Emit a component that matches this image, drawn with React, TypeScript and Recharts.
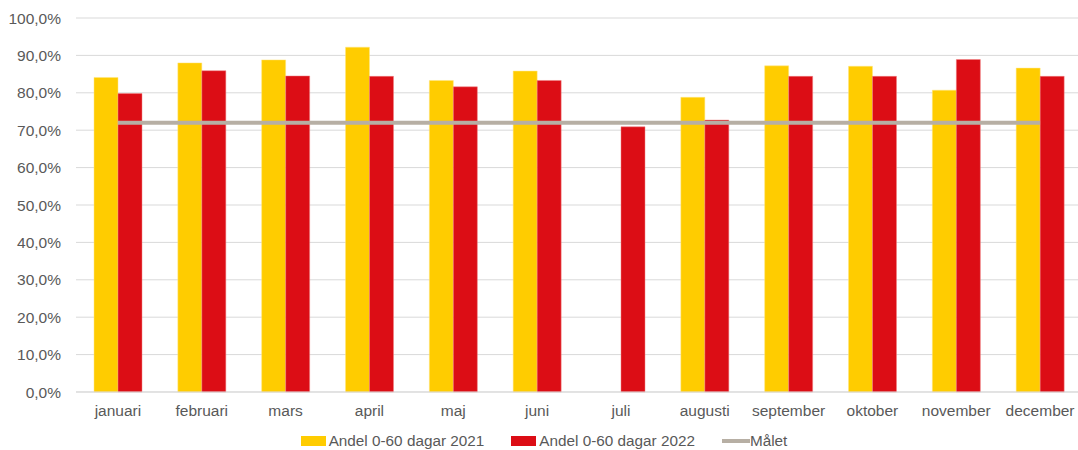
import {
  Bar,
  CartesianGrid,
  ComposedChart,
  Legend,
  Line,
  XAxis,
  YAxis,
} from "recharts";

const months = [
  "januari",
  "februari",
  "mars",
  "april",
  "maj",
  "juni",
  "juli",
  "augusti",
  "september",
  "oktober",
  "november",
  "december",
];

const share2021: (number | null)[] = [84.1, 88.0, 88.8, 92.2, 83.3, 85.8, null, 78.8, 87.2, 87.1, 80.7, 86.6];
const share2022: number[] = [79.8, 85.9, 84.5, 84.4, 81.6, 83.3, 70.9, 72.7, 84.4, 84.4, 88.9, 84.4];
const target: number[] = [72, 72, 72, 72, 72, 72, 72, 72, 72, 72, 72, 72];

const yTicks = [0, 10, 20, 30, 40, 50, 60, 70, 80, 90, 100];

const YELLOW = "#FFCC00";
const RED = "#DC0D15";
const GREY_LINE = "#B7AFA4";
const TEXT = "#595959";
const FONT = '"Liberation Sans", Arial, sans-serif';

const data = months.map((m, i) => ({
  month: m,
  a2021: share2021[i],
  a2022: share2022[i],
  malet: target[i],
}));

const fmt = (v: number) => `${v.toFixed(1).replace(".", ",")}%`;

function LegendBox() {
  const item = { display: "flex", alignItems: "center", marginRight: 27 } as const;
  const label = { color: TEXT, fontSize: 15.3, fontFamily: FONT, marginLeft: 3 } as const;
  return (
    <div style={{ display: "flex", justifyContent: "center", alignItems: "center", height: 28, paddingTop: 5, paddingLeft: 6 }}>
      <div style={item}>
        <span style={{ width: 25, height: 10, background: YELLOW, display: "inline-block" }} />
        <span style={label}>Andel 0-60 dagar 2021</span>
      </div>
      <div style={item}>
        <span style={{ width: 25, height: 10, background: RED, display: "inline-block" }} />
        <span style={label}>Andel 0-60 dagar 2022</span>
      </div>
      <div style={{ ...item, marginRight: 0 }}>
        <span style={{ width: 28, height: 4, background: GREY_LINE, display: "inline-block" }} />
        <span style={{ ...label, marginLeft: 0 }}>Målet</span>
      </div>
    </div>
  );
}

export default function App() {
  return (
    <div style={{ position: "absolute", left: 0, top: 0, width: 1078, height: 450, overflow: "hidden", background: "#fff" }}>
      <ComposedChart
        width={1084}
        height={450}
        data={data}
        margin={{ top: 18, right: 2, bottom: 0, left: 0 }}
        barGap={0}
      >
        <CartesianGrid stroke="#D9D9D9" vertical={false} />
        <XAxis
          dataKey="month"
          stroke="#D9D9D9"
          tickLine={false}
          height={30}
          tickMargin={7}
          interval={0}
          tick={{ fill: TEXT, fontSize: 15.5, fontFamily: FONT }}
        />
        <YAxis
          domain={[0, 100]}
          ticks={yTicks}
          tickFormatter={fmt}
          axisLine={false}
          tickLine={false}
          width={76}
          tickMargin={9}
          tick={{ fill: TEXT, fontSize: 15.5, fontFamily: FONT }}
        />
        <Legend verticalAlign="bottom" height={28} content={() => <LegendBox />} />
        <Bar dataKey="a2021" fill={YELLOW} barSize={24} stroke="#FFE680" strokeWidth={0.5} isAnimationActive={false} />
        <Bar dataKey="a2022" fill={RED} barSize={24} stroke="#F08080" strokeWidth={0.5} isAnimationActive={false} />
        <Line
          dataKey="malet"
          stroke={GREY_LINE}
          strokeWidth={4}
          dot={false}
          activeDot={false}
          isAnimationActive={false}
        />
      </ComposedChart>
    </div>
  );
}
